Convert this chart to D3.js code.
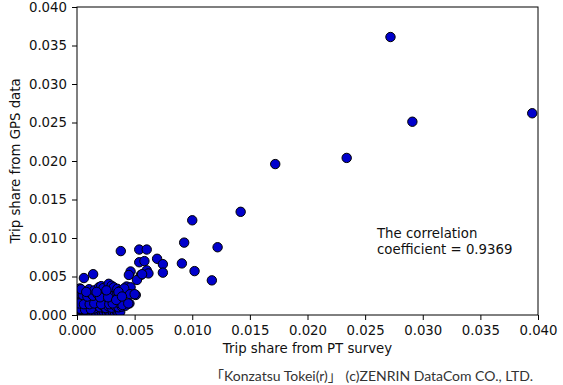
<!DOCTYPE html>
<html>
<head>
<meta charset="utf-8">
<script src="https://cdn.jsdelivr.net/npm/d3@7"></script>
<style>
  html, body { margin: 0; padding: 0; background: #fff; }
  svg { display: block; }
</style>
</head>
<body>
<script>
// Values in units of 1e-3 (trip share)
const ptShare = [
  // dense cluster, bottom rows
  0.05,0.1,0.15,0.2,0.3,0.4,0.5,0.6,0.7,0.8,0.9,1.0,1.1,1.2,1.35,1.45,1.6,1.7,1.85,1.95,2.1,2.2,2.35,2.5,2.6,2.75,2.9,3.0,3.15,3.3,3.45,3.6,3.75,0.05,0.02,0.08,0.25,0.45,0.35,0.65,0.95,
  // y ~0.8-1.4
  0.1,0.35,0.55,0.8,1.0,1.25,1.5,1.75,2.0,2.25,2.5,2.75,3.0,3.3,3.6,3.9,4.2,0.3,0.7,1.2,
  // y ~1.5-2.3
  0.1,0.4,0.7,1.0,1.3,1.6,1.9,2.3,2.6,3.0,3.3,3.6,3.9,0.2,0.6,1.1,1.5,2.1,2.8,3.1,
  // y ~2.5-3
  0.2,0.5,0.9,1.2,1.4,1.8,2.2,2.5,2.9,3.2,3.5,3.7,4.0,2.0,2.7,
  // top edge
  0.25,0.35,1.05,1.5,1.9,2.1,2.3,2.75,3.0,3.2,3.5,2.55,1.7,0.8,3.8,4.3,
  // cluster fringe
  4.65,4.1,5.1,4.55,3.95,3.6,3.4,4.6,5.0,3.9,4.45,
  // mid-range
  0.6,1.4,3.8,5.4,6.05,6.95,7.45,7.45,5.4,5.85,6.05,6.2,4.65,4.5,5.55,5.2,5.65,
  // outliers
  9.3,9.1,10.2,11.7,12.2,10.0,14.2,17.2,23.4,29.1,27.2,39.5
];
const gpsShare = [
  0.1,0.3,0.6,0.05,0.4,0.15,0.5,0.25,0.05,0.45,0.2,0.6,0.1,0.35,0.55,0.15,0.4,0.05,0.6,0.25,0.5,0.1,0.35,0.6,0.15,0.45,0.1,0.6,0.3,0.05,0.5,0.2,0.4,0.85,0.02,0.2,0.25,0.02,0.65,0.6,0.85,
  1.1,1.0,1.2,0.9,1.1,1.0,0.85,1.2,1.0,1.2,0.9,1.1,0.95,1.2,1.0,1.1,1.2,0.8,0.7,0.75,
  2.1,2.0,1.8,2.1,1.7,2.0,1.6,1.9,1.7,2.0,1.8,1.6,1.9,1.5,1.4,1.4,1.5,1.4,1.4,1.5,
  2.8,2.6,2.4,2.8,2.5,2.7,2.9,2.6,2.8,2.5,2.9,2.6,2.7,2.3,2.3,
  3.45,3.35,3.35,3.2,3.6,3.75,3.5,4.05,3.8,3.6,3.4,3.2,3.0,3.0,3.2,3.7,
  3.6,3.45,2.6,1.5,1.3,3.0,1.95,2.7,2.7,2.4,1.5,
  4.8,5.3,8.3,8.5,8.5,7.3,6.6,5.5,6.85,7.0,5.8,5.4,5.65,5.2,5.2,4.55,5.3,
  9.4,6.7,5.7,4.5,8.8,12.3,13.4,19.6,20.4,25.1,36.1,26.2
];
const xTicks = [0, 0.005, 0.010, 0.015, 0.020, 0.025, 0.030, 0.035, 0.040];
const yTicks = [0, 0.005, 0.010, 0.015, 0.020, 0.025, 0.030, 0.035, 0.040];
const xLabel = "Trip share from PT survey";
const yLabel = "Trip share from GPS data";
const noteLines = ["The correlation", "coefficient = 0.9369"];
const credit = "\u300CKonzatsu Tokei(r)\u300D (c)ZENRIN DataCom CO., LTD.";

const W = 563, H = 385;
const m = {left: 77, right: 25, top: 7, bottom: 70};
const iw = W - m.left - m.right, ih = H - m.top - m.bottom;

const svg = d3.select("body").append("svg").attr("width", W).attr("height", H)
  .style("font-family", "'DejaVu Sans', sans-serif");

const x = d3.scaleLinear().domain([0, 0.04]).range([0, iw]);
const y = d3.scaleLinear().domain([0, 0.04]).range([ih, 0]);

const g = svg.append("g").attr("transform", `translate(${m.left},${m.top})`);

svg.append("defs").append("clipPath").attr("id", "clip")
  .append("rect").attr("x", 0).attr("y", 0).attr("width", iw).attr("height", ih);

const pts = ptShare.map((v, i) => ({x: v / 1000, y: gpsShare[i] / 1000}));

g.append("g").attr("clip-path", "url(#clip)")
  .selectAll("circle").data(pts).join("circle")
  .attr("cx", d => x(d.x)).attr("cy", d => y(d.y)).attr("r", 4.7)
  .attr("fill", "#0000cc").attr("stroke", "#000").attr("stroke-width", 1);

const fmt = d3.format(".3f");
const xa = g.append("g").attr("transform", `translate(0,${ih})`)
  .call(d3.axisBottom(x).tickValues(xTicks).tickFormat(fmt).tickSize(5).tickPadding(6));
const ya = g.append("g")
  .call(d3.axisLeft(y).tickValues(yTicks).tickFormat(fmt).tickSize(5).tickPadding(5));
[xa, ya].forEach(a => {
  a.select(".domain").remove();
  a.selectAll("line").attr("stroke", "#000").attr("stroke-width", 1);
  a.selectAll("text").attr("fill", "#111").style("font-size", "13.3px")
    .style("font-family", "'DejaVu Sans', sans-serif");
});

g.append("rect").attr("x", 0).attr("y", 0).attr("width", iw).attr("height", ih)
  .attr("fill", "none").attr("stroke", "#000").attr("stroke-width", 1);

svg.append("text").attr("x", m.left + iw / 2).attr("y", 353)
  .attr("text-anchor", "middle").style("font-size", "13.3px").attr("fill", "#111").text(xLabel);

svg.append("text").attr("transform", `translate(20,${m.top + ih / 2}) rotate(-90)`)
  .attr("text-anchor", "middle").style("font-size", "13.3px").attr("fill", "#111").text(yLabel);

const note = svg.append("text").attr("x", 377).attr("y", 238)
  .style("font-size", "13.3px").attr("fill", "#111");
noteLines.forEach((t, i) => note.append("tspan").attr("x", 377).attr("y", 238 + i * 16).text(t));

svg.append("text").attr("x", 210).attr("y", 381)
  .attr("textLength", 323).attr("lengthAdjust", "spacingAndGlyphs")
  .style("font-family", "Lato, 'Noto Sans CJK JP', sans-serif").style("font-size", "14px")
  .attr("fill", "#333").text(credit);
</script>
</body>
</html>
